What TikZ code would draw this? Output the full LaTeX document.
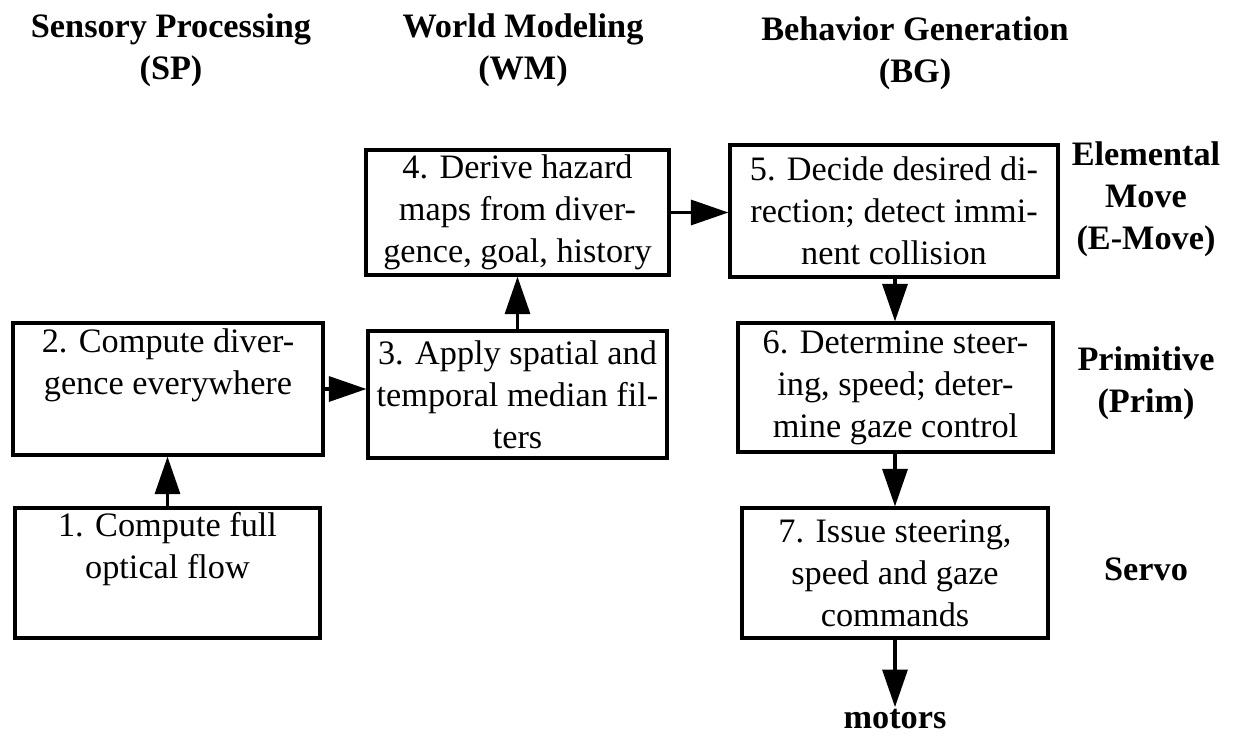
\documentclass[tikz,border=0pt]{standalone}
\usepackage{fontspec}
\setmainfont{Liberation Serif}
\usetikzlibrary{arrows.meta}

\tikzset{
  stepbox/.style={draw, line width=1.8pt, align=center, inner sep=0pt,
    font=\fontsize{19.5}{23.9}\selectfont},
  head/.style={align=center, inner sep=1pt,
    font=\fontsize{19.5}{23.9}\selectfont\bfseries},
  flow/.style={line width=1.8pt, -{Triangle[length=0.75cm,width=0.5cm]}}
}

\begin{document}
\begin{tikzpicture}[x=0.02cm,y=-0.02cm]
  \useasboundingbox (0,0) rectangle (1234,738);
  % column and level headings
  \node[head] (sp) at (171,50) {Sensory Processing\\(SP)};
  \node[head] (wm) at (523,50) {World Modeling\\(WM)};
  \node[head] (bg) at (915,53) {Behavior Generation\\(BG)};
  \node[head] (emove) at (1146,199) {Elemental\\Move\\(E-Move)};
  \node[head] (prim) at (1146,383) {Primitive\\(Prim)};
  \node[head] (servo) at (1146,569) {Servo};
  \node[head] (motors) at (895,719) {motors};
  % boxes
  \node[stepbox, minimum width=305*0.02cm, minimum height=130*0.02cm] (b1) at (167.5,573)
    {1. Compute full\\optical flow\\\strut};
  \node[stepbox, minimum width=310*0.02cm, minimum height=132*0.02cm] (b2) at (168,389)
    {2. Compute diver-\\gence everywhere\\\strut};
  \node[stepbox, minimum width=299*0.02cm, minimum height=127*0.02cm] (b3) at (517.5,394.5)
    {3. Apply spatial and\\temporal median fil-\\ters};
  \node[stepbox, minimum width=303*0.02cm, minimum height=125*0.02cm] (b4) at (517.5,212.5)
    {4. Derive hazard\\maps from diver-\\gence, goal, history};
  \node[stepbox, minimum width=328*0.02cm, minimum height=132*0.02cm] (b5) at (894,211)
    {5. Decide desired di-\\rection; detect immi-\\nent collision};
  \node[stepbox, minimum width=315*0.02cm, minimum height=129*0.02cm] (b6) at (895.5,387.5)
    {6. Determine steer-\\ing, speed; deter-\\mine gaze control};
  \node[stepbox, minimum width=306*0.02cm, minimum height=130*0.02cm] (b7) at (895,573)
    {7. Issue steering,\\speed and gaze\\commands};
  % arrows
  \draw[flow] (b1.north) -- (b1.north |- b2.south);
  \draw[flow] (b2.east) -- (b2.east -| b3.west);
  \draw[flow] (b3.north) -- (b3.north |- b4.south);
  \draw[flow] (b4.east) -- (b4.east -| b5.west);
  \draw[flow] (b5.south -| b7.north) -- (b6.north -| b7.north);
  \draw[flow] (b6.south -| b7.north) -- (b7.north);
  \draw[flow] (b7.south) -- (b7.south |- motors.north);
\end{tikzpicture}
\end{document}
